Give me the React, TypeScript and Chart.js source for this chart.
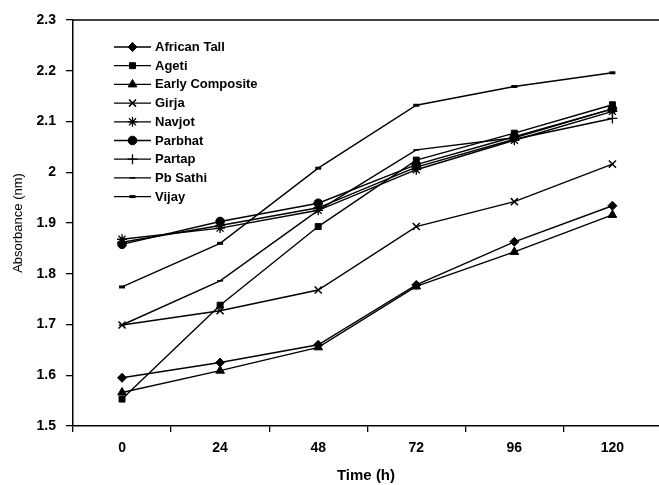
import React, { useEffect, useRef } from 'react';
import { Chart, registerables } from 'chart.js';
import { drawPoint } from 'chart.js/helpers';

Chart.register(...registerables);

const timeLabels = [0, 24, 48, 72, 96, 120];
const seriesNames = ['African Tall', 'Ageti', 'Early Composite', 'Girja', 'Navjot', 'Parbhat', 'Partap', 'Pb Sathi', 'Vijay'];
const africanTall = [1.595, 1.625, 1.66, 1.778, 1.863, 1.934];
const ageti = [1.553, 1.738, 1.893, 2.024, 2.077, 2.133];
const earlyComposite = [1.566, 1.609, 1.655, 1.775, 1.843, 1.916];
const girja = [1.699, 1.727, 1.768, 1.893, 1.942, 2.016];
const navjot = [1.868, 1.89, 1.925, 2.005, 2.063, 2.12];
const parbhat = [1.858, 1.903, 1.939, 2.015, 2.07, 2.125];
const partap = [1.862, 1.895, 1.93, 2.01, 2.065, 2.106];
const pbSathi = [1.699, 1.786, 1.925, 2.044, 2.068, 2.125];
const vijay = [1.774, 1.86, 2.008, 2.132, 2.169, 2.196];
const yTicks = [1.5, 1.6, 1.7, 1.8, 1.9, 2.0, 2.1, 2.2, 2.3];

const allSeries = [africanTall, ageti, earlyComposite, girja, navjot, parbhat, partap, pbSathi, vijay];

const markerStyles: any[] = [
  { pointStyle: 'rectRot', radius: 4.5, borderWidth: 1 },
  { pointStyle: 'rect', radius: 4.2, borderWidth: 1 },
  { pointStyle: 'triangle', radius: 5, borderWidth: 1 },
  { pointStyle: 'crossRot', radius: 5, borderWidth: 1.5 },
  { pointStyle: 'star', radius: 5, borderWidth: 1.3 },
  { pointStyle: 'circle', radius: 4.3, borderWidth: 1 },
  { pointStyle: 'cross', radius: 5, borderWidth: 1.3 },
  { pointStyle: 'line', radius: 3, borderWidth: 1.5 },
  { pointStyle: 'line', radius: 3, borderWidth: 3 },
];

const FONT = 'Arial, "Liberation Sans", Helvetica, sans-serif';
const CANVAS_W = 666;

const topBorderPlugin = {
  id: 'topBorder',
  afterDraw(chart: any) {
    const { ctx, chartArea } = chart;
    ctx.save();
    ctx.strokeStyle = '#000';
    ctx.lineWidth = 1.5;
    ctx.beginPath();
    ctx.moveTo(chartArea.left, chartArea.top);
    ctx.lineTo(chartArea.right, chartArea.top);
    ctx.stroke();
    ctx.restore();
  },
};

const innerLegendPlugin = {
  id: 'innerLegend',
  afterDraw(chart: any) {
    const { ctx } = chart;
    const x0 = 114;
    const x1 = 151;
    const y0 = 47;
    const dy = 18.7;
    ctx.save();
    ctx.font = `bold 13px ${FONT}`;
    ctx.textBaseline = 'middle';
    ctx.textAlign = 'left';
    chart.data.datasets.forEach((ds: any, i: number) => {
      const y = y0 + i * dy;
      ctx.strokeStyle = '#000';
      ctx.lineWidth = 1.3;
      ctx.beginPath();
      ctx.moveTo(x0, y);
      ctx.lineTo(x1, y);
      ctx.stroke();
      ctx.fillStyle = '#000';
      ctx.strokeStyle = '#000';
      ctx.lineWidth = ds.pointBorderWidth;
      drawPoint(ctx, { pointStyle: ds.pointStyle, radius: ds.pointRadius, borderWidth: ds.pointBorderWidth, rotation: 0 } as any, (x0 + x1) / 2, y);
      ctx.fillStyle = '#000';
      ctx.fillText(ds.label, 155, y + 0.5);
    });
    ctx.restore();
  },
};

export default function App() {
  const ref = useRef<HTMLCanvasElement | null>(null);
  useEffect(() => {
    if (!ref.current) return;
    const datasets = allSeries.map((vals, i) => ({
      label: seriesNames[i],
      data: vals.map((v, j) => ({ x: timeLabels[j], y: v })),
      borderColor: '#000',
      backgroundColor: '#000',
      borderWidth: 1.4,
      pointStyle: markerStyles[i].pointStyle,
      pointRadius: markerStyles[i].radius,
      pointBorderWidth: markerStyles[i].borderWidth,
      pointBackgroundColor: '#000',
      pointBorderColor: '#000',
      tension: 0,
      fill: false,
    }));
    const chart = new Chart(ref.current, {
      type: 'line',
      data: { datasets },
      plugins: [topBorderPlugin, innerLegendPlugin],
      options: {
        responsive: false,
        animation: false,
        devicePixelRatio: 1,
        layout: { padding: { top: 20, left: 0, right: 0, bottom: 0 } },
        plugins: { legend: { display: false }, tooltip: { enabled: false } },
        scales: {
          x: {
            type: 'linear',
            min: -12,
            max: 131.4,
            afterBuildTicks: (s: any) => {
              const t: any[] = [{ value: -12 }];
              timeLabels.forEach((v) => {
                t.push({ value: v });
                t.push({ value: v + 12 });
              });
              s.ticks = t.filter((k: any) => k.value <= 131.4);
            },
            afterFit: (s: any) => {
              s.height = 59;
              s.paddingLeft = 0;
              s.paddingRight = 0;
            },
            grid: {
              drawOnChartArea: false,
              tickLength: 6,
              lineWidth: 1.3,
              color: (c: any) => (c.tick && c.tick.value % 24 === 0 ? 'rgba(0,0,0,0)' : '#000'),
            },
            border: { color: '#000', width: 1.5 },
            ticks: {
              autoSkip: false,
              maxRotation: 0,
              padding: 8,
              color: '#000',
              font: { family: FONT, size: 14, weight: 'bold' },
              callback: (v: any) => (Number(v) % 24 === 0 ? String(v) : ''),
            },
            title: {
              display: true,
              text: 'Time (h)',
              color: '#000',
              font: { family: FONT, size: 15, weight: 'bold' },
              padding: { top: 0, bottom: 0 },
            },
          },
          y: {
            type: 'linear',
            min: 1.5,
            max: 2.3,
            afterBuildTicks: (s: any) => {
              s.ticks = yTicks.map((v) => ({ value: v }));
            },
            afterFit: (s: any) => {
              s.width = 73;
            },
            grid: { drawOnChartArea: false, tickLength: 7, lineWidth: 1.3, color: '#000' },
            border: { color: '#000', width: 1.5 },
            ticks: {
              padding: 10,
              color: '#000',
              font: { family: FONT, size: 14, weight: 'bold' },
              callback: (v: any) => String(Math.round(Number(v) * 10) / 10),
            },
            title: {
              display: true,
              text: 'Absorbance (nm)',
              color: '#000',
              font: { family: FONT, size: 13, weight: 'normal' },
              padding: { top: 11, bottom: 0 },
            },
          },
        },
      } as any,
    });
    return () => chart.destroy();
  }, []);
  return (
    <div style={{ position: 'absolute', left: 0, top: 0, width: 659, height: 485, background: '#fff', overflow: 'hidden' }}>
      <canvas ref={ref} width={CANVAS_W} height={485} style={{ display: 'block' }} />
    </div>
  );
}
